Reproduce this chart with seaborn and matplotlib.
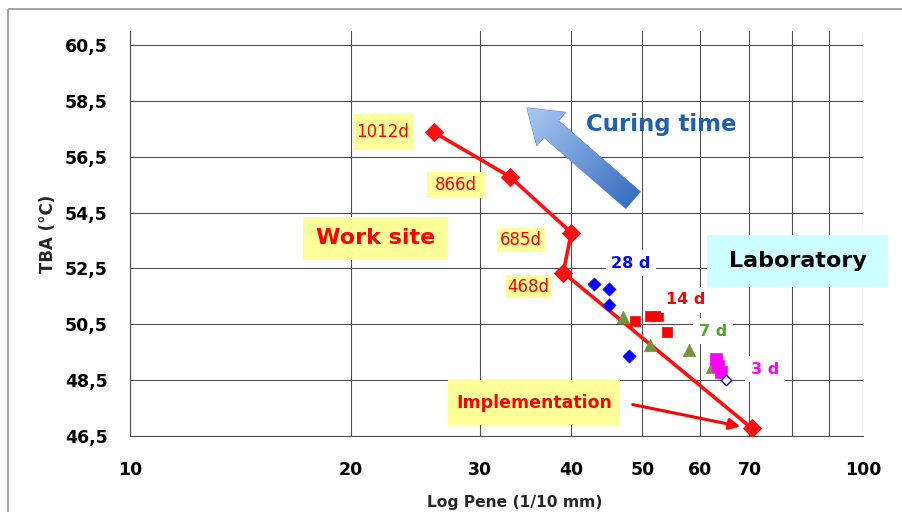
import numpy as np
import pandas as pd
import matplotlib
matplotlib.use("Agg")
import matplotlib.pyplot as plt
import seaborn as sns
from matplotlib.patches import Rectangle, FancyArrow, FancyArrowPatch
from matplotlib.colors import LinearSegmentedColormap

# ---------------- data ----------------
site_pen = [26.0, 33.0, 40.0, 39.0, 70.5]
site_tba = [57.37, 55.78, 53.78, 52.35, 46.78]
site_age = ["1012d", "866d", "685d", "468d", "Implementation"]

lab28_pen = [43.0, 45.0, 45.0, 47.9]
lab28_tba = [51.95, 51.78, 51.20, 49.36]
lab14_pen = [48.9, 51.2, 52.6, 54.0]
lab14_tba = [50.62, 50.80, 50.80, 50.23]
lab7_pen = [47.0, 51.2, 57.9, 62.2]
lab7_tba = [50.77, 49.75, 49.57, 48.96]
lab3_pen = [63.0, 63.5, 64.0]
lab3_tba = [49.25, 49.00, 48.79]
labx_pen = [65.0]
labx_tba = [48.50]

x_ticks = [10, 20, 30, 40, 50, 60, 70, 80, 90, 100]
x_ticklabels = ["10", "20", "30", "40", "50", "60", "70", "", "", "100"]
y_ticks = [46.5, 48.5, 50.5, 52.5, 54.5, 56.5, 58.5, 60.5]
y_ticklabels = ["46,5", "48,5", "50,5", "52,5", "54,5", "56,5", "58,5", "60,5"]

# ---------------- figure ----------------
sns.set_style("white")
plt.rcParams["font.family"] = ["DejaVu Sans"]

W, H = 903, 512
fig = plt.figure(figsize=(W / 100, H / 100), dpi=100)
ax = fig.add_axes([130 / W, 76 / H, 733 / W, 405 / H])

site_df = pd.DataFrame({"pen": site_pen, "tba": site_tba})
sns.lineplot(data=site_df, x="pen", y="tba", sort=False, estimator=None,
             color="#ff1010", lw=2.6, marker="D", markersize=9.5,
             markeredgecolor="#ff1010", ax=ax, zorder=3)

sns.scatterplot(x=lab28_pen, y=lab28_tba, marker="D", s=44, color="#0000ff",
                edgecolor="#0000ff", linewidth=0.5, ax=ax, zorder=4)
sns.scatterplot(x=lab14_pen, y=lab14_tba, marker="s", s=42, color="#ff0000",
                edgecolor="#ff0000", linewidth=0.5, ax=ax, zorder=4)
sns.scatterplot(x=lab7_pen, y=lab7_tba, marker="^", s=80, color="#77933c",
                edgecolor="#77933c", linewidth=0.5, ax=ax, zorder=4)
sns.scatterplot(x=lab3_pen, y=lab3_tba, marker="s", s=64, color="#ff00ff",
                edgecolor="#ff00ff", linewidth=0.5, ax=ax, zorder=4)
sns.scatterplot(x=labx_pen, y=labx_tba, marker="D", s=28, color="white",
                edgecolor="#0000ff", linewidth=1.0, ax=ax, zorder=4)

ax.set_xscale("log")
ax.set_xlim(10, 100)
ax.set_ylim(46.5, 61.0)
ax.set_xticks(x_ticks)
ax.set_xticklabels(x_ticklabels)
ax.xaxis.set_minor_locator(matplotlib.ticker.NullLocator())
ax.set_yticks(y_ticks)
ax.set_yticklabels(y_ticklabels)

gcol = "#505050"
ax.grid(True, axis="both", color=gcol, lw=0.8)
ax.set_axisbelow(True)
for s in ["top", "right"]:
    ax.spines[s].set_visible(False)
for s in ["left", "bottom"]:
    ax.spines[s].set_color(gcol)
    ax.spines[s].set_linewidth(0.8)
ax.tick_params(axis="both", which="major", direction="out", length=5,
               width=0.8, color=gcol, labelsize=12.5, labelcolor="black")
ax.tick_params(axis="y", pad=11)
ax.tick_params(axis="x", pad=13)
for lab in ax.get_xticklabels() + ax.get_yticklabels():
    lab.set_fontweight("bold")

ax.set_xlabel("Log Pene (1/10 mm)", fontsize=11.2, fontweight="bold")
ax.xaxis.set_label_coords((515 - 130) / 733, -(502 - 436) / 405)
ax.xaxis.label.set_va("center")
ax.set_ylabel("TBA (°C)", fontsize=12, fontweight="bold", labelpad=6)

# ---------------- annotation overlay (pixel coords) ----------------
ov = fig.add_axes([0, 0, 1, 1], zorder=5)
ov.set_xlim(0, W)
ov.set_ylim(H, 0)
ov.axis("off")
ov.patch.set_alpha(0)

# outer frame
ov.add_patch(Rectangle((8, 9), 910, 520, fill=False, ec="#a6a6a6", lw=1.5,
                       clip_on=False))

yellow = "#ffff99"


def box_text(txt, x0, x1, y0, y1, fc, color, size, weight):
    ov.add_patch(Rectangle((x0, y0), x1 - x0, y1 - y0, fc=fc, ec="none"))
    ov.text((x0 + x1) / 2, (y0 + y1) / 2, txt, ha="center", va="center",
            color=color, fontsize=size, fontweight=weight)


box_text(site_age[0], 353, 413, 114, 150, yellow, "#ff0000", 12, "normal")
box_text(site_age[1], 427, 485, 172, 198, yellow, "#ff0000", 12, "normal")
box_text(site_age[2], 497, 545, 228, 252, yellow, "#ff0000", 12, "normal")
box_text(site_age[3], 506, 551, 275, 298, yellow, "#ff0000", 12, "normal")
box_text(site_age[4], 448, 620, 380, 425, yellow, "#ff0000", 12.5, "bold")
box_text("Work site", 303, 448, 217, 260, yellow, "#ff0000", 16, "bold")
box_text("Laboratory", 707, 888, 235, 287, "#ccffff", "black", 16, "bold")


def lab_label(txt, x, y, color):
    ov.text(x, y, txt, ha="center", va="center", color=color, fontsize=11.5,
            fontweight="bold",
            bbox=dict(boxstyle="square,pad=0.35", fc="white", ec="none"))


lab_label("28 d", 631, 263, "#0000ff")
lab_label("14 d", 686, 300, "#ff0000")
lab_label("7 d", 713, 331, "#4ea72e")
lab_label("3 d", 765, 369, "#ff00ff")

# Implementation arrow
ov.add_patch(FancyArrowPatch((630, 404), (743, 427), arrowstyle="-|>",
                             mutation_scale=16, color="#ff0000", lw=2.2))

# Curing time arrow with gradient
arrow = FancyArrow(633, 200, -106, -92, width=22, head_width=44,
                   head_length=32, length_includes_head=True,
                   fc="none", ec="#5b86c8", lw=0.8)
ov.add_patch(arrow)
gx, gy = np.meshgrid(np.linspace(500, 660, 160), np.linspace(90, 220, 130))
t = ((gx - 527) * 106 + (gy - 108) * 92) / (106 ** 2 + 92 ** 2)
cmap = LinearSegmentedColormap.from_list("g", ["#a9c9f2", "#3a6fc2"])
im = ov.imshow(t, extent=[500, 660, 220, 90], cmap=cmap, vmin=0, vmax=1,
               origin="upper", aspect="auto", zorder=1)
im.set_clip_path(arrow)
ov.set_xlim(0, W)
ov.set_ylim(H, 0)
ov.text(661, 125, "Curing time", ha="center", va="center", color="#1f5fae",
        fontsize=16.5, fontweight="bold")

fig.savefig("out.png", dpi=100)
